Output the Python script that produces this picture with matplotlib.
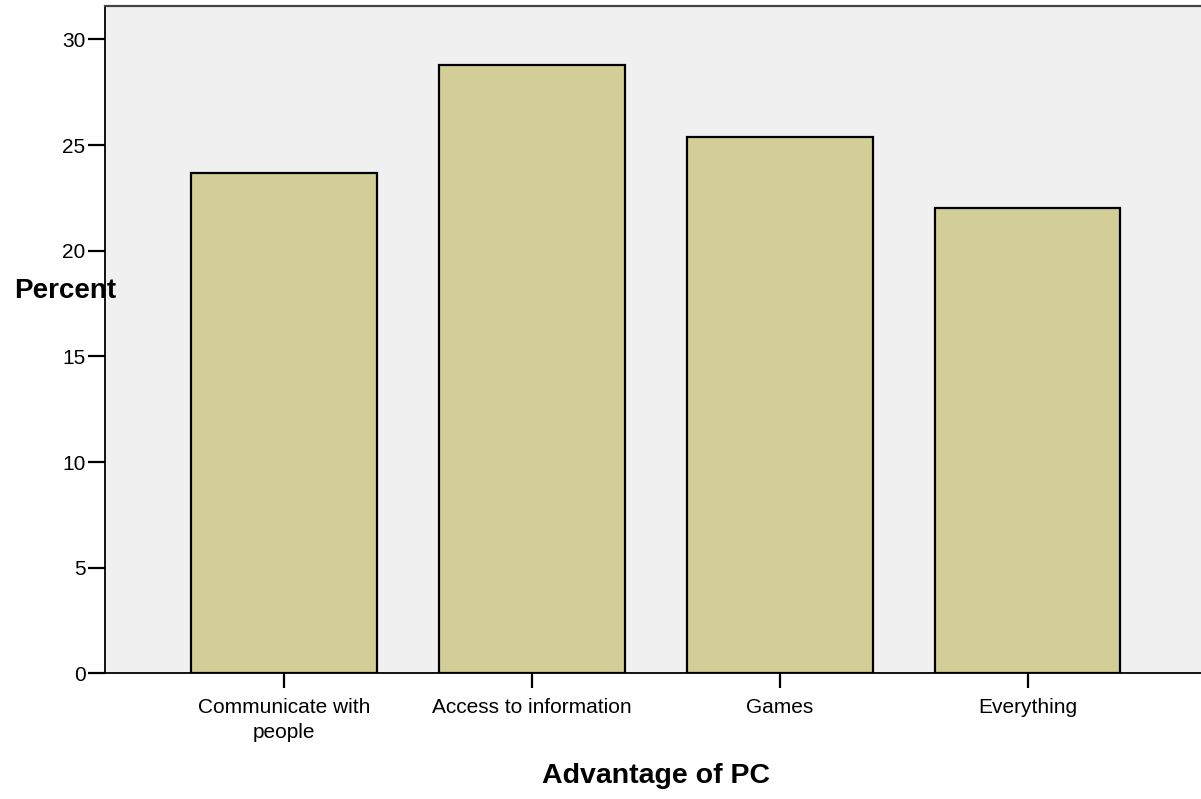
import matplotlib.pyplot as plt
import numpy as np

plt.rcParams['font.family'] = ['Liberation Sans', 'DejaVu Sans']

categories = ['Communicate with\npeople', 'Access to information', 'Games', 'Everything']
percents = [23.7, 28.8, 25.4, 22.0]
yticks = [0, 5, 10, 15, 20, 25, 30]

fig = plt.figure(figsize=(12.01, 7.99), dpi=100)
ax = fig.add_axes([0.0874, 0.1573, 1 - 0.0874, 0.9925 - 0.1573])
ax.set_facecolor('#F0F0F0')

x = np.arange(len(categories))
ax.bar(x, percents, width=0.75, color='#D3CE97', edgecolor='black', linewidth=1.6, zorder=2)

ax.set_xlim(-0.723, 3.70)
ax.set_ylim(0, 31.58)
ax.set_yticks(yticks)
ax.set_xticks(x)
ax.set_xticklabels(categories, fontsize=15, linespacing=1.35)
ax.tick_params(axis='y', length=12, width=1.6, labelsize=15, pad=2)
ax.tick_params(axis='x', length=11, width=1.6, labelsize=15, pad=7)

ax.spines['right'].set_visible(False)
ax.spines['top'].set_color('#444444')
ax.spines['top'].set_linewidth(1.6)
ax.spines['left'].set_linewidth(1.3)
ax.spines['bottom'].set_linewidth(1.3)

fig.text(0.054, 0.636, 'Percent', fontsize=20, fontweight='bold', ha='center', va='center', zorder=10)
fig.text(0.546, 0.029, 'Advantage of PC', fontsize=20.5, fontweight='bold', ha='center', va='center')

fig.savefig('out.png', dpi=100)
